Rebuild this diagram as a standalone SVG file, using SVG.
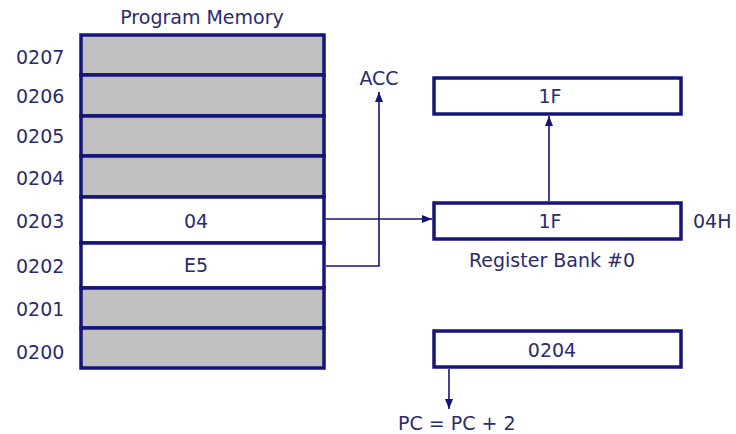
<svg xmlns="http://www.w3.org/2000/svg" width="736" height="434" viewBox="0 0 736 434">
<defs>
<style>
text{font-family:"DejaVu Sans","Liberation Sans",sans-serif;font-size:19px;fill:#2b2b6e}
.mid{text-anchor:middle}
.cell{stroke:#14147a;stroke-width:3.5}
.g{fill:#c0c0c0}
.w{fill:#ffffff}
.reg{fill:#ffffff;stroke:#14147a;stroke-width:3.5}
.conn{fill:none;stroke:#14147a;stroke-width:1.6}
</style>
<marker id="ah" viewBox="0 0 10 8" refX="10" refY="4" markerWidth="10" markerHeight="8" markerUnits="userSpaceOnUse" orient="auto">
<path d="M0,0 L10,4 L0,8 z" fill="#14147a"/>
</marker>
</defs>
<rect width="736" height="434" fill="#ffffff"/>
<g id="program-memory">
<text x="202" y="24" class="mid">Program Memory</text>
<rect class="cell g" x="81" y="35" width="243" height="40"/>
<rect class="cell g" x="81" y="75" width="243" height="41"/>
<rect class="cell g" x="81" y="116" width="243" height="40"/>
<rect class="cell g" x="81" y="156" width="243" height="41"/>
<rect class="cell w" x="81" y="197" width="243" height="46"/>
<rect class="cell w" x="81" y="243" width="243" height="45"/>
<rect class="cell g" x="81" y="288" width="243" height="40"/>
<rect class="cell g" x="81" y="328" width="243" height="40"/>
<text x="196" y="228" class="mid">04</text>
<text x="196" y="272" class="mid">E5</text>
<text x="16" y="64">0207</text>
<text x="16" y="103">0206</text>
<text x="16" y="143">0205</text>
<text x="16" y="185">0204</text>
<text x="16" y="228">0203</text>
<text x="16" y="273">0202</text>
<text x="16" y="316">0201</text>
<text x="16" y="359">0200</text>
</g>
<g id="acc">
<text x="379" y="85" class="mid">ACC</text>
</g>
<g id="reg-top">
<rect class="reg" x="434" y="78" width="247" height="36"/>
<text x="550" y="103" class="mid">1F</text>
</g>
<g id="reg-bank">
<rect class="reg" x="434" y="203" width="247" height="36"/>
<text x="550" y="228" class="mid">1F</text>
<text x="693" y="228">04H</text>
<text x="552" y="267" class="mid">Register Bank #0</text>
</g>
<g id="pc">
<rect class="reg" x="434" y="331" width="247" height="36"/>
<text x="552" y="357" class="mid">0204</text>
<text x="398" y="430">PC = PC + 2</text>
</g>
<g id="connectors">
<path class="conn" d="M326,219 H432" marker-end="url(#ah)"/>
<path class="conn" d="M326,266 H379 V92" marker-end="url(#ah)"/>
<path class="conn" d="M549,201 V116" marker-end="url(#ah)"/>
<path class="conn" d="M449,369 V409" marker-end="url(#ah)"/>
</g>
</svg>
